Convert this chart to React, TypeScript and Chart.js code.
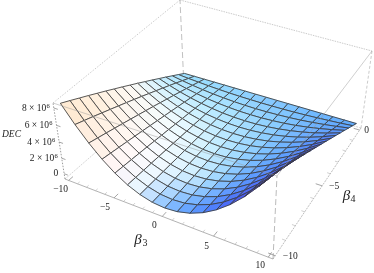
import React, { useEffect, useRef } from "react";
import { Chart, registerables } from "chart.js";

Chart.register(...registerables);

// Axis ticks
const beta3Ticks = [-10, -5, 0, 5, 10];
const beta4Ticks = [-10, -5, 0];
const decTicks = [0, 2, 4, 6, 8]; // in millions
const beta3Minor = [-9, -8, -7, -6, -4, -3, -2, -1, 1, 2, 3, 4, 6, 7, 8, 9];
const beta4Minor = [-9, -8, -7, -6, -4, -3, -2, -1];

// Surface mesh: DEC in millions, one row per beta4 line (from -10 to 0), columns beta3 from -10 to 10
const dec00 = [8.4, 6.43, 4.73, 3.28, 2.1, 1.18, 0.53, 0.13, 0, 0.13, 0.53, 1.18, 2.1, 3.28, 4.73, 6.43, 8.4];
const dec01 = [7.88, 6.03, 4.43, 3.08, 1.97, 1.11, 0.5, 0.12, 0, 0.12, 0.5, 1.11, 1.97, 3.08, 4.43, 6.03, 7.88];
const dec02 = [7.35, 5.63, 4.14, 2.87, 1.84, 1.03, 0.46, 0.11, 0, 0.11, 0.46, 1.03, 1.84, 2.87, 4.14, 5.63, 7.35];
const dec03 = [6.83, 5.22, 3.84, 2.67, 1.71, 0.96, 0.43, 0.11, 0, 0.11, 0.43, 0.96, 1.71, 2.67, 3.84, 5.22, 6.83];
const dec04 = [6.3, 4.82, 3.55, 2.46, 1.58, 0.89, 0.4, 0.1, 0, 0.1, 0.4, 0.89, 1.58, 2.46, 3.55, 4.82, 6.3];
const dec05 = [5.78, 4.42, 3.25, 2.26, 1.44, 0.81, 0.36, 0.09, 0, 0.09, 0.36, 0.81, 1.44, 2.26, 3.25, 4.42, 5.78];
const dec06 = [5.25, 4.02, 2.96, 2.05, 1.31, 0.74, 0.33, 0.08, 0, 0.08, 0.33, 0.74, 1.31, 2.05, 2.96, 4.02, 5.25];
const dec07 = [4.73, 3.62, 2.66, 1.85, 1.18, 0.66, 0.3, 0.07, 0, 0.07, 0.3, 0.66, 1.18, 1.85, 2.66, 3.62, 4.73];
const dec08 = [4.2, 3.22, 2.37, 1.64, 1.05, 0.59, 0.27, 0.07, 0, 0.07, 0.27, 0.59, 1.05, 1.64, 2.37, 3.22, 4.2];
const dec09 = [3.68, 2.81, 2.07, 1.44, 0.92, 0.52, 0.23, 0.06, 0, 0.06, 0.23, 0.52, 0.92, 1.44, 2.07, 2.81, 3.68];
const dec10 = [3.15, 2.41, 1.77, 1.23, 0.79, 0.44, 0.2, 0.05, 0, 0.05, 0.2, 0.44, 0.79, 1.23, 1.77, 2.41, 3.15];
const dec11 = [2.63, 2.01, 1.48, 1.03, 0.66, 0.37, 0.17, 0.04, 0, 0.04, 0.17, 0.37, 0.66, 1.03, 1.48, 2.01, 2.63];
const dec12 = [2.1, 1.61, 1.18, 0.82, 0.53, 0.3, 0.13, 0.03, 0, 0.03, 0.13, 0.3, 0.53, 0.82, 1.18, 1.61, 2.1];
const dec13 = [1.58, 1.21, 0.89, 0.62, 0.39, 0.22, 0.1, 0.02, 0, 0.02, 0.1, 0.22, 0.39, 0.62, 0.89, 1.21, 1.58];
const dec14 = [1.05, 0.8, 0.59, 0.41, 0.26, 0.15, 0.07, 0.02, 0, 0.02, 0.07, 0.15, 0.26, 0.41, 0.59, 0.8, 1.05];
const dec15 = [0.53, 0.4, 0.3, 0.21, 0.13, 0.07, 0.03, 0.01, 0, 0.01, 0.03, 0.07, 0.13, 0.21, 0.3, 0.4, 0.53];
const dec16 = [0, 0, 0, 0, 0, 0, 0, 0, 0, 0, 0, 0, 0, 0, 0, 0, 0];
const decRows = [dec00, dec01, dec02, dec03, dec04, dec05, dec06, dec07, dec08, dec09, dec10, dec11, dec12, dec13, dec14, dec15, dec16];

// Shading anchors (lighting)
const shadeU = [0, 0.25, 0.35, 0.5, 0.625, 0.75, 0.875, 1];
const shadeV = [0, 0.25, 0.5, 0.75, 1];
const shade00 = [[255,232,205],[255,246,248],[232,245,255],[125,185,255],[85,150,255],[72,110,250],[78,80,232],[60,40,140]];
const shade25 = [[255,240,222],[255,252,255],[240,250,255],[205,238,255],[150,210,255],[95,160,255],[80,125,255],[70,70,215]];
const shade50 = [[255,250,245],[240,252,255],[225,247,255],[190,235,255],[155,215,255],[115,185,255],[90,155,255],[75,95,240]];
const shade75 = [[205,240,255],[190,236,255],[180,232,255],[165,222,255],[145,210,255],[125,190,255],[105,170,255],[85,140,250]];
const shade100 = [[150,222,255],[145,215,255],[140,210,255],[132,200,255],[125,195,255],[115,188,255],[105,180,255],[95,172,252]];
const shadeRows = [shade00, shade25, shade50, shade75, shade100];

// Bounding box corners on the picture
const bottom = { A: [65, 179], B: [273, 259], C: [361, 128], D: [183.5, 76] };
const top = { A: [53, 103], B: [277, 176], C: [372, 51], D: [180, 0] };
const bottomW = { a: -0.1216, b: 0.2321 };
const topW = { a: -0.0899, b: 0.2111, c: -0.08 };

function project(u: number, v: number, t: number): { x: number; y: number } {
  const corner = (P: number[], wgt: number, cu: number, cv: number, ct: number) => {
    const k = (cu ? u : 1 - u) * (cv ? v : 1 - v) * (ct ? t : 1 - t) * wgt;
    return [P[0] * k, P[1] * k, k];
  };
  const tw = 1 + topW.c;
  const parts = [
    corner(bottom.A, 1, 0, 0, 0),
    corner(bottom.B, 1 + bottomW.a, 1, 0, 0),
    corner(bottom.C, 1 + bottomW.a + bottomW.b, 1, 1, 0),
    corner(bottom.D, 1 + bottomW.b, 0, 1, 0),
    corner(top.A, tw, 0, 0, 1),
    corner(top.B, tw * (1 + topW.a), 1, 0, 1),
    corner(top.C, tw * (1 + topW.a + topW.b), 1, 1, 1),
    corner(top.D, tw * (1 + topW.b), 0, 1, 1),
  ];
  let X = 0, Y = 0, W = 0;
  parts.forEach((p) => { X += p[0]; Y += p[1]; W += p[2]; });
  return { x: X / W, y: Y / W };
}

const uOf = (b3: number) => 0.02 + 0.96 * (b3 + 10) / 20;
const vOf = (b4: number) => 0.02 + 0.96 * (b4 + 10) / 10;
const tOf = (m: number) => 0.075 + 0.108 * m;

function shade(u: number, v: number): string {
  const bracket = (arr: number[], x: number) => {
    let i = 0;
    while (i < arr.length - 2 && x > arr[i + 1]) i++;
    return [i, (x - arr[i]) / (arr[i + 1] - arr[i])];
  };
  const [iu, fu] = bracket(shadeU, u);
  const [iv, fv] = bracket(shadeV, v);
  const c = [0, 1, 2].map((k) => {
    const a = shadeRows[iv][iu][k] * (1 - fu) + shadeRows[iv][iu + 1][k] * fu;
    const b = shadeRows[iv + 1][iu][k] * (1 - fu) + shadeRows[iv + 1][iu + 1][k] * fu;
    return Math.round(a * (1 - fv) + b * fv);
  });
  return `rgb(${c[0]},${c[1]},${c[2]})`;
}

type Pt = { x: number; y: number };
const seg = (pts: Pt[], color: string, width: number, dash: number[] = []) => ({
  type: "scatter" as const,
  data: pts,
  showLine: true,
  pointRadius: 0,
  borderColor: color,
  borderWidth: width,
  borderDash: dash,
  clip: false,
  tension: 0,
});

function buildDatasets() {
  const drawn: any[] = [];
  const c = (u: number, v: number, t: number) => project(u, v, t);
  const grey = "#b5b5b5";
  // back of the box
  drawn.push(seg([c(0, 1, 0), c(0, 1, 1)], "#b0b0b0", 0.8, [6, 3]));
  drawn.push(seg([c(0, 0, 0), c(0, 1, 0)], "#c4c4c4", 0.7, [2, 1]));
  drawn.push(seg([c(1, 1, 0), c(0, 1, 0)], "#c4c4c4", 0.7, [2, 1]));
  drawn.push(seg([c(0, 0, 1), c(0, 1, 1)], grey, 0.7, [1.5, 1.5]));
  drawn.push(seg([c(0, 1, 1), c(1, 1, 1)], grey, 0.7, [1.5, 1]));
  drawn.push(seg([c(1, 1, 1), c(1, 1, 0)], grey, 0.7, [3, 2]));
  drawn.push(seg([c(1, 0, 0), c(1, 0, 1)], "#a8a8a8", 0.8, [6, 3]));
  drawn.push(seg([c(1, 1, 0), c(1, 0, 0)], "#a0a0a0", 0.7, [2, 1]));
  drawn.push(seg([c(0, 0, 0), c(1, 0, 0)], "#a0a0a0", 0.8));
  drawn.push(seg([c(0, 0, 0), c(0, 0, 1)], "#909090", 0.9, [1.5, 1.5]));

  // axis ticks
  beta3Ticks.forEach((b) => drawn.push(seg([c(uOf(b), 0, 0), c(uOf(b), 0.03, 0)], "#808080", 0.7)));
  beta3Minor.forEach((b) => drawn.push(seg([c(uOf(b), 0, 0), c(uOf(b), 0.015, 0)], "#b0b0b0", 0.6)));
  beta4Ticks.forEach((b) => drawn.push(seg([c(1, vOf(b), 0), c(0.97, vOf(b), 0)], "#808080", 0.7)));
  beta4Minor.forEach((b) => drawn.push(seg([c(1, vOf(b), 0), c(0.985, vOf(b), 0)], "#b0b0b0", 0.6)));
  decTicks.forEach((m) => drawn.push(seg([c(0, 0, tOf(m)), c(0.02, 0, tOf(m))], "#808080", 0.7)));

  // surface cells, far ones first
  const n = decRows.length - 1;
  for (let j = n - 1; j >= 0; j--) {
    for (let i = 0; i < n; i++) {
      const u0 = 0.02 + (0.96 * i) / n, u1 = 0.02 + (0.96 * (i + 1)) / n;
      const v0 = 0.02 + (0.96 * j) / n, v1 = 0.02 + (0.96 * (j + 1)) / n;
      const p00 = c(u0, v0, tOf(decRows[j][i]));
      const p10 = c(u1, v0, tOf(decRows[j][i + 1]));
      const p11 = c(u1, v1, tOf(decRows[j + 1][i + 1]));
      const p01 = c(u0, v1, tOf(decRows[j + 1][i]));
      const ds: any = seg([p00, p10, p11, p01, p00], "#3a3a3a", 0.85);
      ds.cellFill = shade((i + 0.5) / n, (j + 0.5) / n);
      drawn.push(ds);
    }
  }

  // front edges of the box show through the surface
  drawn.push(seg([c(0, 0, 1), c(1, 0, 1)], "rgba(150,150,150,0.65)", 0.7));
  drawn.push(seg([c(1, 0, 1), c(1, 1, 1)], "rgba(150,150,150,0.65)", 0.7));
  return drawn.reverse();
}

const serif = '"Liberation Serif", serif';

const cellFillPlugin = {
  id: "cellFill",
  beforeDatasetDraw(chart: any, args: any) {
    const ds = chart.data.datasets[args.index];
    if (!ds.cellFill) return;
    const pts = args.meta.data;
    const ctx = chart.ctx;
    ctx.save();
    ctx.beginPath();
    pts.forEach((p: any, i: number) => (i ? ctx.lineTo(p.x, p.y) : ctx.moveTo(p.x, p.y)));
    ctx.closePath();
    ctx.fillStyle = ds.cellFill;
    ctx.fill();
    ctx.strokeStyle = ds.cellFill;
    ctx.lineWidth = 0.5;
    ctx.stroke();
    ctx.restore();
  },
};

const labelsPlugin = {
  id: "labels3d",
  afterDraw(chart: any) {
    const ctx = chart.ctx;
    const sx = chart.scales.x, sy = chart.scales.y;
    ctx.save();
    ctx.fillStyle = "#222";
    ctx.textBaseline = "middle";
    const text = (s: string, px: number, py: number, font: string, align: CanvasTextAlign = "center") => {
      ctx.font = font;
      ctx.textAlign = align;
      ctx.fillText(s, px, py);
    };
    const tickFont = `9.5px ${serif}`;
    const sign = (b: number) => (b < 0 ? "\u2212" + Math.abs(b) : String(b));
    const off3: Record<number, number[]> = { [-10]: [-8, 9], [-5]: [-9, 10], [0]: [-8, 9], [5]: [-7, 10], [10]: [-8, 8] };
    beta3Ticks.forEach((b) => {
      const p = project(uOf(b), 0, 0);
      text(sign(b), sx.getPixelForValue(p.x) + off3[b][0], sy.getPixelForValue(p.y) + off3[b][1], tickFont);
    });
    const off4: Record<number, number[]> = { [-10]: [15, 1], [-5]: [12, 1], [0]: [7, 0] };
    beta4Ticks.forEach((b) => {
      const p = project(1, vOf(b), 0);
      text(sign(b), sx.getPixelForValue(p.x) + off4[b][0], sy.getPixelForValue(p.y) + off4[b][1], tickFont);
    });
    decTicks.forEach((m) => {
      const p = project(0, 0, tOf(m));
      const px = sx.getPixelForValue(p.x), py = sy.getPixelForValue(p.y);
      if (m === 0) {
        text("0", px - 6, py, tickFont, "right");
      } else {
        text("6", px - 4, py - 2, `6.5px ${serif}`, "right");
        text(`${m} \u00d7 10`, px - 7.5, py, tickFont, "right");
      }
    });
    text("DEC", 11.5, 134, `italic 9.5px ${serif}`);
    text("\u03b2", 138, 240, `italic 15px ${serif}`);
    text("3", 145, 243, `10px ${serif}`);
    text("\u03b2", 346.5, 196, `italic 15px ${serif}`);
    text("4", 353, 199, `10px ${serif}`);
    ctx.restore();
  },
};

export default function App() {
  const ref = useRef<HTMLCanvasElement>(null);
  useEffect(() => {
    if (!ref.current) return;
    const chart = new Chart(ref.current, {
      type: "scatter",
      data: { datasets: buildDatasets() },
      options: {
        responsive: false,
        animation: false,
        layout: { padding: 0 },
        events: [],
        plugins: { legend: { display: false }, tooltip: { enabled: false }, title: { display: false } },
        scales: {
          x: { type: "linear", min: 0, max: 374, display: false },
          y: { type: "linear", min: 0, max: 273, reverse: true, display: false },
        },
      },
      plugins: [cellFillPlugin, labelsPlugin],
    } as any);
    return () => chart.destroy();
  }, []);
  return (
    <div style={{ position: "fixed", left: 0, top: 0, width: 374, height: 273, background: "#fff" }}>
      <canvas ref={ref} width={374} height={273} style={{ display: "block" }} />
    </div>
  );
}
